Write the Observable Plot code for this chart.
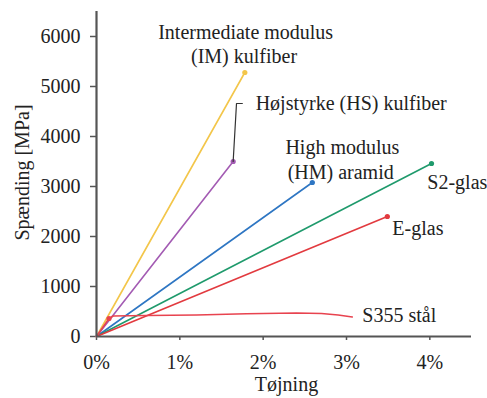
<!DOCTYPE html>
<html><head><meta charset="utf-8">
<script src="https://cdn.jsdelivr.net/npm/d3@7"></script>
<script src="https://cdn.jsdelivr.net/npm/@observablehq/plot@0.6"></script>
<style>
body{margin:0;background:#fff}
svg, svg text{font-family:"Liberation Serif","Times New Roman",serif !important;}
</style>
</head><body><div id="chart"></div>
<script>
const materials = ["IM", "HS", "HM", "S2", "E", "S355"];
const colors = ["#f3c64a", "#a35bb3", "#2e76c3", "#1f9a6c", "#e23a3f", "#e8434f"];
const strainIM = [0, 1.78], stressIM = [0, 5280];
const strainHS = [0, 1.64], stressHS = [0, 3500];
const strainHM = [0, 2.59], stressHM = [0, 3080];
const strainS2 = [0, 4.02], stressS2 = [0, 3460];
const strainE = [0, 3.49], stressE = [0, 2400];
const strainSteel = [0, 0.15, 0.2, 0.6, 1.2, 1.8, 2.4, 2.7, 2.9, 3.07];
const stressSteel = [0, 360, 410, 420, 430, 455, 470, 460, 430, 390];
const yTicks = [0, 1000, 2000, 3000, 4000, 5000, 6000];
const xTicks = [0, 1, 2, 3, 4];
// annotation labels (positions in data units)
const labelText = ["Intermediate modulus", "(IM) kulfiber", "Højstyrke (HS) kulfiber", "High modulus", "(HM) aramid", "S2-glas", "E-glas", "S355 stål"];
const labelX = [1.79, 1.77, 1.91, 2.95, 2.93, 3.97, 3.55, 3.19];
const labelY = [6080, 5600, 4660, 3780, 3280, 3080, 2160, 420];
const labelAnchor = ["middle", "middle", "start", "middle", "middle", "start", "start", "start"];
const leaderX = [1.64, 1.68, 1.75], leaderY = [3500, 4660, 4660];

const series = [
  [strainIM, stressIM], [strainHS, stressHS], [strainHM, stressHM],
  [strainS2, stressS2], [strainE, stressE], [strainSteel, stressSteel]
];
const rows = series.flatMap(([xs, ys], i) => xs.map((x, j) => ({m: materials[i], x, y: ys[j]})));
const ends = series.slice(0, 5).map(([xs, ys], i) => ({m: materials[i], x: xs[xs.length - 1], y: ys[ys.length - 1]}));
ends.push({m: "S355", x: strainSteel[1], y: stressSteel[1]});
const labels = labelText.map((t, i) => ({t, x: labelX[i], y: labelY[i], a: labelAnchor[i]}));
const leader = leaderX.map((x, i) => ({x, y: leaderY[i]}));

const fs = 20;
const chart = Plot.plot({
  width: 487, height: 398,
  marginLeft: 96, marginRight: 16, marginTop: 11, marginBottom: 62,
  style: {fontFamily: "Liberation Serif", fontSize: fs + "px", color: "#222", background: "#fff"},
  x: {domain: [0, 4.5]},
  y: {domain: [0, 6500]},
  color: {domain: materials, range: colors},
  marks: [
    Plot.axisY({ticks: yTicks, tickFormat: d => String(d), tickSize: 6, tickPadding: 10, label: null, fontSize: fs, stroke: "#555", strokeWidth: 1.5}),
    Plot.axisX({ticks: xTicks, tickFormat: d => d + "%", tickSize: 4, tickPadding: 14, label: null, fontSize: fs, stroke: "#555", strokeWidth: 1.5}),
    Plot.line(rows, {x: "x", y: "y", z: "m", stroke: "m", strokeWidth: 1.6}),
    Plot.dot(ends, {x: "x", y: "y", fill: "m", r: 2.6}),
    Plot.line(leader, {x: "x", y: "y", stroke: "#333", strokeWidth: 1.2}),
    Plot.text(labels.filter(d => d.a === "middle"), {x: "x", y: "y", text: "t", textAnchor: "middle", fontSize: fs, fill: "#222"}),
    Plot.text(labels.filter(d => d.a === "start"), {x: "x", y: "y", text: "t", textAnchor: "start", fontSize: fs, fill: "#222"}),
    Plot.ruleX([0], {stroke: "#555", strokeWidth: 2.2}),
    Plot.ruleY([0], {stroke: "#555", strokeWidth: 2.2}),
    Plot.text(["Tøjning"], {x: 2.28, frameAnchor: "bottom", dy: 48, textAnchor: "middle", lineAnchor: "middle", fontSize: fs, fill: "#222"}),
    Plot.text(["Spænding [MPa]"], {y: 3280, frameAnchor: "left", dx: -74, rotate: -90, textAnchor: "middle", lineAnchor: "middle", fontSize: fs, fill: "#222"})
  ]
});
document.getElementById("chart").appendChild(chart);
</script></body></html>
